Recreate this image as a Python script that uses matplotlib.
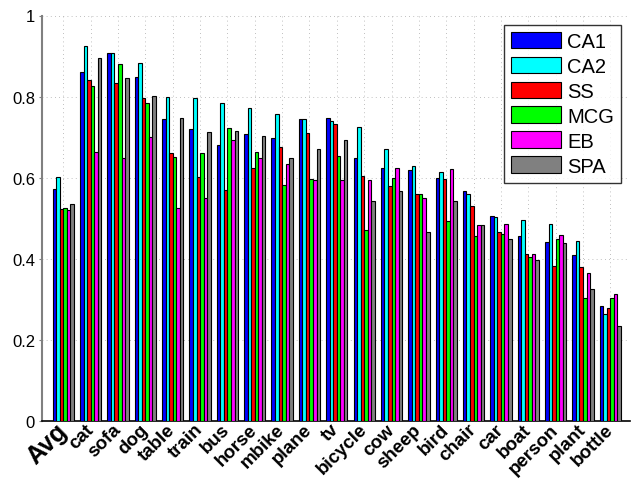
import numpy as np
import matplotlib.pyplot as plt

plt.rcParams['font.family'] = ['Liberation Sans', 'DejaVu Sans']

categories = ["Avg", "cat", "sofa", "dog", "table", "train", "bus", "horse", "mbike", "plane", "tv",
              "bicycle", "cow", "sheep", "bird", "chair", "car", "boat", "person", "plant", "bottle"]

ca1 = [0.572, 0.861, 0.908, 0.848, 0.744, 0.719, 0.681, 0.709, 0.697, 0.745, 0.746,
       0.649, 0.624, 0.620, 0.600, 0.566, 0.506, 0.455, 0.442, 0.409, 0.284]
ca2 = [0.602, 0.924, 0.908, 0.883, 0.798, 0.796, 0.784, 0.771, 0.756, 0.745, 0.739,
       0.724, 0.672, 0.630, 0.613, 0.561, 0.504, 0.495, 0.486, 0.444, 0.264]
ss = [0.524, 0.842, 0.833, 0.797, 0.661, 0.601, 0.569, 0.623, 0.675, 0.710, 0.732,
      0.605, 0.579, 0.561, 0.597, 0.531, 0.465, 0.413, 0.382, 0.380, 0.278]
mcg = [0.525, 0.825, 0.880, 0.783, 0.651, 0.661, 0.722, 0.663, 0.582, 0.597, 0.653,
       0.472, 0.599, 0.559, 0.492, 0.455, 0.460, 0.404, 0.450, 0.303, 0.303]
eb = [0.520, 0.663, 0.648, 0.700, 0.526, 0.549, 0.692, 0.648, 0.633, 0.595, 0.594,
      0.594, 0.624, 0.550, 0.621, 0.483, 0.487, 0.411, 0.459, 0.365, 0.312]
spa = [0.534, 0.894, 0.847, 0.802, 0.747, 0.712, 0.716, 0.702, 0.649, 0.671, 0.694,
       0.543, 0.568, 0.465, 0.543, 0.484, 0.450, 0.396, 0.440, 0.326, 0.234]

series = [("CA1", ca1, "#0000ff"), ("CA2", ca2, "#00ffff"), ("SS", ss, "#ff0000"),
          ("MCG", mcg, "#00ff00"), ("EB", eb, "#ff00ff"), ("SPA", spa, "#808080")]

fig = plt.figure(figsize=(6.33, 4.81), dpi=100)
ax = fig.add_axes([42 / 633, 59 / 481, 588 / 633, 405.5 / 481])

x = np.arange(len(categories))
w = 0.13
for i, (name, vals, color) in enumerate(series):
    ax.bar(x + (i - 2.5) * w, vals, w, color=color, edgecolor="black", linewidth=0.8,
           label=name, zorder=3)

ax.set_xlim(-0.78, 20.72)
ax.set_ylim(0, 1)
ax.set_yticks([0, 0.2, 0.4, 0.6, 0.8, 1])
ax.set_yticklabels(["0", "0.2", "0.4", "0.6", "0.8", "1"], fontsize=12)
ax.set_xticks(x)
ax.set_xticklabels(categories, rotation=45, rotation_mode="anchor", ha="right", va="center",
                   fontweight="bold", fontsize=13.5)
ax.get_xticklabels()[0].set_fontsize(18)
ax.tick_params(axis="x", length=0, pad=4)
ax.tick_params(axis="y", direction="out", length=2, width=0.8, color="#808080", pad=3)

ax.grid(True, linestyle=(0, (1, 4)), color="#aaaaaa", linewidth=0.6, zorder=0)
ax.set_axisbelow(True)
ax.spines["top"].set_visible(False)
ax.spines["right"].set_visible(False)
ax.spines["left"].set_color("#808080")
ax.spines["left"].set_linewidth(1.5)
ax.spines["bottom"].set_color("black")
ax.spines["bottom"].set_linewidth(1.2)

leg = ax.legend(loc="upper right", fontsize=14.5, frameon=True, fancybox=False, edgecolor="black",
                handlelength=2.5, handleheight=0.9, labelspacing=0.28, borderpad=0.35,
                handletextpad=0.3, borderaxespad=0.45)
leg.get_frame().set_linewidth(1.0)

fig.savefig("out.png", dpi=100)
